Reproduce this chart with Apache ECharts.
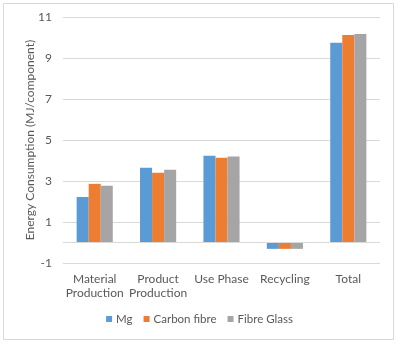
<!DOCTYPE html>
<html><head><meta charset="utf-8">
<script src="https://cdn.jsdelivr.net/npm/echarts@6/dist/echarts.min.js"></script>
<style>html,body{margin:0;padding:0;background:#fff}#c{width:399px;height:344px}</style>
</head><body><div id="c"></div>
<script>
const categories = ['Material\nProduction', 'Product\nProduction', 'Use Phase', 'Recycling', 'Total'];
const mg = [2.22, 3.65, 4.23, -0.31, 9.74];
const carbonFibre = [2.86, 3.40, 4.14, -0.31, 10.12];
const fibreGlass = [2.77, 3.55, 4.19, -0.31, 10.17];
const seriesNames = ['Mg', 'Carbon fibre', 'Fibre Glass'];
const yTicks = { min: -1, max: 11, interval: 2 };

const font = 'Lato, "Noto Sans", sans-serif';
const chart = echarts.init(document.getElementById('c'));
const colors = ['#5B9BD5', '#ED7D31', '#A5A5A5'];
const data = [mg, carbonFibre, fibreGlass];
chart.setOption({
  animation: false,
  color: colors,
  textStyle: { fontFamily: font },
  graphic: [{ type: 'rect', shape: { x: 3.5, y: 3.5, width: 390, height: 336 }, style: { fill: 'none', stroke: '#D9D9D9', lineWidth: 1 } }],
  grid: { left: 63, right: 19, top: 17, bottom: 81 },
  legend: {
    bottom: 14, left: 'center', itemWidth: 6, itemHeight: 6, itemGap: 11, icon: 'rect',
    textStyle: { color: '#595959', fontSize: 11.5, fontFamily: font, padding: [0, 0, 0, -1] },
    data: seriesNames
  },
  xAxis: {
    type: 'category', data: categories,
    axisLine: { show: false, onZero: false }, axisTick: { show: false },
    axisLabel: { color: '#595959', fontSize: 12, fontFamily: font, margin: 9, lineHeight: 14, interval: 0 }
  },
  yAxis: {
    type: 'value', min: yTicks.min, max: yTicks.max, interval: yTicks.interval,
    name: 'Energy Consumption (MJ/component)', nameLocation: 'middle', nameGap: 27, nameMoveOverlap: false,
    nameTextStyle: { color: '#595959', fontSize: 12, fontFamily: font },
    axisLine: { show: false }, axisTick: { show: false },
    axisLabel: { color: '#595959', fontSize: 12, fontFamily: font, margin: 11 },
    splitLine: { lineStyle: { color: '#D9D9D9', width: 1 } }
  },
  series: seriesNames.map((n, i) => ({
    name: n, type: 'bar', data: data[i], barGap: '0%', barCategoryGap: '43%',
    markLine: i === 0 ? { silent: true, symbol: 'none', label: { show: false }, lineStyle: { color: '#D9D9D9', type: 'solid', width: 1 }, data: [{ yAxis: 0 }] } : undefined
  }))
});
</script></body></html>
